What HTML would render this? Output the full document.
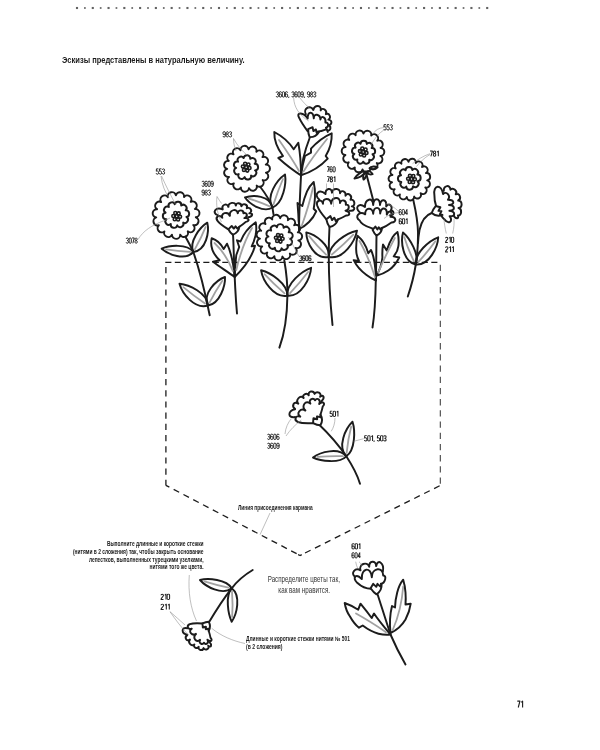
<!DOCTYPE html>
<html><head><meta charset="utf-8"><title>p71</title>
<style>
html,body{margin:0;padding:0;background:#fff;}
body{width:600px;height:750px;overflow:hidden;font-family:"Liberation Sans",sans-serif;}
svg{display:block;}
text{font-family:"Liberation Sans",sans-serif;}
</style></head><body>
<svg width="600" height="750" viewBox="0 0 600 750" style="will-change:transform">
<rect width="600" height="750" fill="#fff"/>
<rect x="75.95" y="6.95" width="2.1" height="2.1" fill="#636363"/>
<rect x="84.04" y="7.15" width="1.7" height="1.7" fill="#636363"/>
<rect x="91.73" y="6.95" width="2.1" height="2.1" fill="#636363"/>
<rect x="99.82" y="7.15" width="1.7" height="1.7" fill="#636363"/>
<rect x="107.50" y="6.95" width="2.1" height="2.1" fill="#636363"/>
<rect x="115.59" y="7.15" width="1.7" height="1.7" fill="#636363"/>
<rect x="123.28" y="6.95" width="2.1" height="2.1" fill="#636363"/>
<rect x="131.37" y="7.15" width="1.7" height="1.7" fill="#636363"/>
<rect x="139.06" y="6.95" width="2.1" height="2.1" fill="#636363"/>
<rect x="147.15" y="7.15" width="1.7" height="1.7" fill="#636363"/>
<rect x="154.83" y="6.95" width="2.1" height="2.1" fill="#636363"/>
<rect x="162.92" y="7.15" width="1.7" height="1.7" fill="#636363"/>
<rect x="170.61" y="6.95" width="2.1" height="2.1" fill="#636363"/>
<rect x="178.70" y="7.15" width="1.7" height="1.7" fill="#636363"/>
<rect x="186.39" y="6.95" width="2.1" height="2.1" fill="#636363"/>
<rect x="194.48" y="7.15" width="1.7" height="1.7" fill="#636363"/>
<rect x="202.17" y="6.95" width="2.1" height="2.1" fill="#636363"/>
<rect x="210.25" y="7.15" width="1.7" height="1.7" fill="#636363"/>
<rect x="217.94" y="6.95" width="2.1" height="2.1" fill="#636363"/>
<rect x="226.03" y="7.15" width="1.7" height="1.7" fill="#636363"/>
<rect x="233.72" y="6.95" width="2.1" height="2.1" fill="#636363"/>
<rect x="241.81" y="7.15" width="1.7" height="1.7" fill="#636363"/>
<rect x="249.50" y="6.95" width="2.1" height="2.1" fill="#636363"/>
<rect x="257.58" y="7.15" width="1.7" height="1.7" fill="#636363"/>
<rect x="265.27" y="6.95" width="2.1" height="2.1" fill="#636363"/>
<rect x="273.36" y="7.15" width="1.7" height="1.7" fill="#636363"/>
<rect x="281.05" y="6.95" width="2.1" height="2.1" fill="#636363"/>
<rect x="289.14" y="7.15" width="1.7" height="1.7" fill="#636363"/>
<rect x="296.83" y="6.95" width="2.1" height="2.1" fill="#636363"/>
<rect x="304.92" y="7.15" width="1.7" height="1.7" fill="#636363"/>
<rect x="312.60" y="6.95" width="2.1" height="2.1" fill="#636363"/>
<rect x="320.69" y="7.15" width="1.7" height="1.7" fill="#636363"/>
<rect x="328.38" y="6.95" width="2.1" height="2.1" fill="#636363"/>
<rect x="336.47" y="7.15" width="1.7" height="1.7" fill="#636363"/>
<rect x="344.16" y="6.95" width="2.1" height="2.1" fill="#636363"/>
<rect x="352.25" y="7.15" width="1.7" height="1.7" fill="#636363"/>
<rect x="359.93" y="6.95" width="2.1" height="2.1" fill="#636363"/>
<rect x="368.02" y="7.15" width="1.7" height="1.7" fill="#636363"/>
<rect x="375.71" y="6.95" width="2.1" height="2.1" fill="#636363"/>
<rect x="383.80" y="7.15" width="1.7" height="1.7" fill="#636363"/>
<rect x="391.49" y="6.95" width="2.1" height="2.1" fill="#636363"/>
<rect x="399.58" y="7.15" width="1.7" height="1.7" fill="#636363"/>
<rect x="407.27" y="6.95" width="2.1" height="2.1" fill="#636363"/>
<rect x="415.35" y="7.15" width="1.7" height="1.7" fill="#636363"/>
<rect x="423.04" y="6.95" width="2.1" height="2.1" fill="#636363"/>
<rect x="431.13" y="7.15" width="1.7" height="1.7" fill="#636363"/>
<rect x="438.82" y="6.95" width="2.1" height="2.1" fill="#636363"/>
<rect x="446.91" y="7.15" width="1.7" height="1.7" fill="#636363"/>
<rect x="454.60" y="6.95" width="2.1" height="2.1" fill="#636363"/>
<rect x="462.68" y="7.15" width="1.7" height="1.7" fill="#636363"/>
<rect x="470.37" y="6.95" width="2.1" height="2.1" fill="#636363"/>
<rect x="478.46" y="7.15" width="1.7" height="1.7" fill="#636363"/>
<rect x="486.15" y="6.95" width="2.1" height="2.1" fill="#636363"/>
<text x="62.00" y="63.00" font-size="9.60" font-weight="bold" text-anchor="start" fill="#1a1a1a" textLength="182.50" lengthAdjust="spacingAndGlyphs">Эскизы представлены в натуральную величину.</text>
<path d="M165.3 262.3 H440.8" fill="none" stroke="#1c1c1c" stroke-width="1.15" stroke-dasharray="6.1 3.4" stroke-dashoffset="0.00"/>
<path d="M165.9 262.3 V485.6" fill="none" stroke="#1c1c1c" stroke-width="1.30" stroke-dasharray="6.2 5" stroke-dashoffset="-4.70"/>
<path d="M165.9 485.3 L300.1 555.5" fill="none" stroke="#1c1c1c" stroke-width="1.30" stroke-dasharray="6.2 4.85" stroke-dashoffset="2.30"/>
<path d="M300.1 555.5 L440.4 485.4" fill="none" stroke="#1c1c1c" stroke-width="1.30" stroke-dasharray="6.2 4.9" stroke-dashoffset="-5.50"/>
<path d="M440.3 262.3 V485.3" fill="none" stroke="#3a3a3a" stroke-width="1.05" stroke-dasharray="6.3 4.9" stroke-dashoffset="-2.40"/>
<path d="M298.6 554.8 L300.1 555.5 L301.4 554.9" fill="none" stroke="#1c1c1c" stroke-width="1.30" stroke-linecap="round" stroke-linejoin="round" />
<path d="M185.3 236.5 C190 245 192 249 193.3 252 C199 268 205 292 209.7 315.2" fill="none" stroke="#1c1c1c" stroke-width="1.95" stroke-linecap="round" stroke-linejoin="round" />
<path d="M233 234 C234 250 234 280 237 313.5" fill="none" stroke="#1c1c1c" stroke-width="1.95" stroke-linecap="round" stroke-linejoin="round" />
<path d="M260 186.5 C265 193 270 200 272.5 208 L273.5 214.3" fill="none" stroke="#1c1c1c" stroke-width="1.95" stroke-linecap="round" stroke-linejoin="round" />
<path d="M310 137 C305 150 301 165 301 176 C300 195 299 215 299 232" fill="none" stroke="#1c1c1c" stroke-width="1.95" stroke-linecap="round" stroke-linejoin="round" />
<path d="M284.3 260.5 C286.3 272 287.6 285 287.4 295.7 C287.2 315 284 335 279.4 347.7" fill="none" stroke="#1c1c1c" stroke-width="1.95" stroke-linecap="round" stroke-linejoin="round" />
<path d="M329.5 227 C328.5 245 328 280 332.5 325" fill="none" stroke="#1c1c1c" stroke-width="1.95" stroke-linecap="round" stroke-linejoin="round" />
<path d="M365.8 172 C368 180 371 192 373.4 201" fill="none" stroke="#1c1c1c" stroke-width="1.95" stroke-linecap="round" stroke-linejoin="round" />
<path d="M376.5 235.5 C376.3 250 376.3 265 375.8 280 C375.5 300 374.5 315 372.5 327.5" fill="none" stroke="#1c1c1c" stroke-width="1.95" stroke-linecap="round" stroke-linejoin="round" />
<path d="M413.3 200 C416 212 417.8 222 418 232 C418.2 244 417.3 255 415.8 264.5 C414 276 411 287 407.8 296.5" fill="none" stroke="#1c1c1c" stroke-width="1.95" stroke-linecap="round" stroke-linejoin="round" />
<path d="M431.7 213 C426 215 421.5 221 419.5 230 C418.8 234 418.3 238 418 243" fill="none" stroke="#1c1c1c" stroke-width="1.95" stroke-linecap="round" stroke-linejoin="round" />
<path d="M318.5 424 C330 435 340 447 346.3 456.3 C352 465 357 474 360 483.7" fill="none" stroke="#1c1c1c" stroke-width="1.95" stroke-linecap="round" stroke-linejoin="round" />
<path d="M208.5 623 C215 612 224 598 231.7 588.3 C238 580 246 574 252.7 570" fill="none" stroke="#1c1c1c" stroke-width="1.95" stroke-linecap="round" stroke-linejoin="round" />
<path d="M377.7 594.7 C382 608 386 621 390.5 634.5 C395 645 400 655 405.5 664.5" fill="none" stroke="#1c1c1c" stroke-width="1.95" stroke-linecap="round" stroke-linejoin="round" />
<path d="M193.30 252.00 C206.36 250.32 209.47 231.66 207.30 222.70 C200.05 227.15 188.57 241.82 193.30 252.00 Z" fill="none" stroke="#1c1c1c" stroke-width="1.95" stroke-linecap="round" stroke-linejoin="round" />
<path d="M194.92 249.17 Q201.27 237.82 205.66 226.96" fill="none" stroke="#a2a2a2" stroke-width="1.80" stroke-linecap="round" stroke-linejoin="round" />
<path d="M193.30 252.00 C187.16 243.48 169.09 245.27 161.70 248.70 C168.11 254.58 185.33 261.06 193.30 252.00 Z" fill="none" stroke="#1c1c1c" stroke-width="1.95" stroke-linecap="round" stroke-linejoin="round" />
<path d="M190.12 251.87 Q177.41 251.25 166.09 249.46" fill="none" stroke="#a2a2a2" stroke-width="1.80" stroke-linecap="round" stroke-linejoin="round" />
<path d="M208.00 305.50 C207.51 293.14 188.85 284.53 179.50 283.80 C182.09 293.41 194.74 309.91 208.00 305.50 Z" fill="none" stroke="#1c1c1c" stroke-width="1.95" stroke-linecap="round" stroke-linejoin="round" />
<path d="M205.03 303.49 Q193.20 295.37 183.31 287.08" fill="none" stroke="#a2a2a2" stroke-width="1.80" stroke-linecap="round" stroke-linejoin="round" />
<path d="M208.00 305.50 C219.64 303.94 225.47 285.78 225.00 277.00 C216.19 280.25 202.12 293.49 208.00 305.50 Z" fill="none" stroke="#1c1c1c" stroke-width="1.95" stroke-linecap="round" stroke-linejoin="round" />
<path d="M209.53 302.55 Q215.73 290.79 222.36 280.84" fill="none" stroke="#a2a2a2" stroke-width="1.80" stroke-linecap="round" stroke-linejoin="round" />
<path d="M272.50 207.50 C283.22 203.26 286.50 183.37 285.00 174.50 C277.07 179.80 265.41 196.51 272.50 207.50 Z" fill="none" stroke="#1c1c1c" stroke-width="1.95" stroke-linecap="round" stroke-linejoin="round" />
<path d="M273.56 204.13 Q277.91 190.68 282.97 179.01" fill="none" stroke="#a2a2a2" stroke-width="1.80" stroke-linecap="round" stroke-linejoin="round" />
<path d="M272.50 207.50 C270.05 195.41 252.94 194.49 245.00 197.50 C249.50 203.97 263.54 213.31 272.50 207.50 Z" fill="none" stroke="#1c1c1c" stroke-width="1.95" stroke-linecap="round" stroke-linejoin="round" />
<path d="M269.82 206.31 Q259.06 201.65 248.95 198.62" fill="none" stroke="#a2a2a2" stroke-width="1.80" stroke-linecap="round" stroke-linejoin="round" />
<path d="M287.30 295.70 C287.80 283.65 270.21 272.44 261.10 270.30 C262.69 280.20 273.60 298.30 287.30 295.70 Z" fill="none" stroke="#1c1c1c" stroke-width="1.95" stroke-linecap="round" stroke-linejoin="round" />
<path d="M284.51 293.33 Q273.45 283.78 264.52 274.11" fill="none" stroke="#a2a2a2" stroke-width="1.80" stroke-linecap="round" stroke-linejoin="round" />
<path d="M287.50 295.70 C301.40 296.92 310.49 277.81 311.10 267.80 C302.24 270.84 285.82 283.75 287.50 295.70 Z" fill="none" stroke="#1c1c1c" stroke-width="1.95" stroke-linecap="round" stroke-linejoin="round" />
<path d="M290.04 293.06 Q300.12 282.45 308.07 271.94" fill="none" stroke="#a2a2a2" stroke-width="1.80" stroke-linecap="round" stroke-linejoin="round" />
<path d="M328.50 257.00 C330.80 245.10 315.01 234.35 306.30 232.40 C306.46 242.07 314.65 259.68 328.50 257.00 Z" fill="none" stroke="#1c1c1c" stroke-width="1.95" stroke-linecap="round" stroke-linejoin="round" />
<path d="M326.10 254.70 Q316.60 245.42 309.14 236.09" fill="none" stroke="#a2a2a2" stroke-width="1.80" stroke-linecap="round" stroke-linejoin="round" />
<path d="M328.90 257.00 C343.34 260.03 355.16 241.13 357.00 230.70 C347.29 232.72 328.47 244.15 328.90 257.00 Z" fill="none" stroke="#1c1c1c" stroke-width="1.95" stroke-linecap="round" stroke-linejoin="round" />
<path d="M331.87 254.55 Q343.69 244.64 353.31 234.64" fill="none" stroke="#a2a2a2" stroke-width="1.80" stroke-linecap="round" stroke-linejoin="round" />
<path d="M415.60 264.50 C419.88 254.68 409.55 238.05 403.00 232.50 C400.51 241.61 402.80 261.41 415.60 264.50 Z" fill="none" stroke="#1c1c1c" stroke-width="1.95" stroke-linecap="round" stroke-linejoin="round" />
<path d="M414.04 261.42 Q407.96 249.03 404.32 237.16" fill="none" stroke="#a2a2a2" stroke-width="1.80" stroke-linecap="round" stroke-linejoin="round" />
<path d="M416.00 264.50 C429.45 265.51 437.82 246.96 438.20 237.30 C429.74 240.36 414.17 253.04 416.00 264.50 Z" fill="none" stroke="#1c1c1c" stroke-width="1.95" stroke-linecap="round" stroke-linejoin="round" />
<path d="M418.41 261.93 Q427.94 251.58 435.37 241.34" fill="none" stroke="#a2a2a2" stroke-width="1.80" stroke-linecap="round" stroke-linejoin="round" />
<path d="M346.30 456.30 C355.39 450.10 355.27 430.13 352.50 421.80 C345.53 428.38 336.99 446.79 346.30 456.30 Z" fill="none" stroke="#1c1c1c" stroke-width="1.95" stroke-linecap="round" stroke-linejoin="round" />
<path d="M346.62 452.80 Q348.07 438.81 351.19 426.55" fill="none" stroke="#a2a2a2" stroke-width="1.80" stroke-linecap="round" stroke-linejoin="round" />
<path d="M346.30 456.30 C338.62 446.87 320.14 452.14 313.00 457.50 C320.47 461.13 339.24 463.86 346.30 456.30 Z" fill="none" stroke="#1c1c1c" stroke-width="1.95" stroke-linecap="round" stroke-linejoin="round" />
<path d="M342.96 456.18 Q329.61 455.82 317.65 456.97" fill="none" stroke="#a2a2a2" stroke-width="1.80" stroke-linecap="round" stroke-linejoin="round" />
<path d="M231.70 588.30 C226.63 579.22 207.99 577.96 200.00 580.00 C205.71 586.66 222.32 595.66 231.70 588.30 Z" fill="none" stroke="#1c1c1c" stroke-width="1.95" stroke-linecap="round" stroke-linejoin="round" />
<path d="M228.48 587.66 Q215.62 585.02 204.36 581.45" fill="none" stroke="#a2a2a2" stroke-width="1.80" stroke-linecap="round" stroke-linejoin="round" />
<path d="M231.70 588.30 C225.04 595.65 228.13 614.35 231.70 621.70 C236.77 614.35 241.36 595.65 231.70 588.30 Z" fill="none" stroke="#1c1c1c" stroke-width="1.95" stroke-linecap="round" stroke-linejoin="round" />
<path d="M232.00 591.64 Q233.05 605.00 232.15 617.02" fill="none" stroke="#a2a2a2" stroke-width="1.80" stroke-linecap="round" stroke-linejoin="round" />
<path d="M234.7 277 C228 272 220 267 213 261.7 L219.7 260.3 C213 254 210 246 211.7 238.3 C217 240 221 244 223.7 249 L227 243.7 C231 252 233.5 264 234.7 277 Z" fill="none" stroke="#1c1c1c" stroke-width="1.95" stroke-linecap="round" stroke-linejoin="round" stroke-miterlimit="6"/>
<path d="M214.5 243 C222 250 228.5 260 232.8 271" fill="none" stroke="#a2a2a2" stroke-width="1.80" stroke-linecap="round" stroke-linejoin="round" />
<path d="M234.7 277 C235 270 235.5 262 236.3 255 L239.2 247 L237 240.3 L240.5 241.5 C243 235 249 227 255.7 222.3 C257 229 256 236 253.7 241.7 L251.7 246.3 L255 245.7 C252 257 244 268 234.7 277 Z" fill="none" stroke="#1c1c1c" stroke-width="1.95" stroke-linecap="round" stroke-linejoin="round" stroke-miterlimit="6"/>
<path d="M252 228 C245 240 240 254 236.3 270" fill="none" stroke="#a2a2a2" stroke-width="1.80" stroke-linecap="round" stroke-linejoin="round" />
<path d="M301 175.3 C294 171 285 164 278.3 158 L283 156 C277 148 274 140 274.3 132 C282 136 289 142 293.7 149.3 L298.3 142.7 C300 152 301 163 301 175.3 Z" fill="none" stroke="#1c1c1c" stroke-width="1.95" stroke-linecap="round" stroke-linejoin="round" stroke-miterlimit="6"/>
<path d="M279 140 C286 150 293 160 299 171" fill="none" stroke="#a2a2a2" stroke-width="1.80" stroke-linecap="round" stroke-linejoin="round" />
<path d="M301 175.3 C302 168 303.5 161 305 156 L311 152.7 L311 148.7 C316 143 323 137 331.7 133.3 C332 141 330 149 325.7 156 L327.7 158.7 C321 166 312 172 301 175.3 Z" fill="none" stroke="#1c1c1c" stroke-width="1.95" stroke-linecap="round" stroke-linejoin="round" stroke-miterlimit="6"/>
<path d="M327 139 C319 149 310 161 303.5 171.5" fill="none" stroke="#a2a2a2" stroke-width="1.80" stroke-linecap="round" stroke-linejoin="round" />
<path d="M299.7 228.7 C298.8 224 298.3 219 298.3 214 C298 210 297.8 206.5 297.5 203 L302.3 206 C303.5 201 305 196 307 191.3 C308.8 187.5 311 184.5 313.7 182 C314.8 187 315.2 192 315 196.7 C314.8 201 314.4 205 313.7 208.7 L316.2 211.3 C314.5 215.5 312 219 309 222 C306.3 224.7 303.2 227 299.7 228.7 Z" fill="none" stroke="#1c1c1c" stroke-width="1.95" stroke-linecap="round" stroke-linejoin="round" stroke-miterlimit="6"/>
<path d="M313 187.5 C310 201 306 214 301.7 226" fill="none" stroke="#a2a2a2" stroke-width="1.80" stroke-linecap="round" stroke-linejoin="round" />
<path d="M376 280.5 C372 279 369 277 366.2 274.8 C361 271 356.5 266 353.7 260.2 L359 261 C357 257 356.2 254 356.2 250 C356 245 356.5 240 357.5 235.8 C360 238 362 240 363.4 242.3 C365.5 245.5 367 249 368.3 253.2 L371 250 C372.5 253 373.5 257 374.2 260.8 C375.2 266 375.8 272 376 280.5 Z" fill="none" stroke="#1c1c1c" stroke-width="1.95" stroke-linecap="round" stroke-linejoin="round" stroke-miterlimit="6"/>
<path d="M359.5 241 C365 251 371 264 375 277" fill="none" stroke="#a2a2a2" stroke-width="1.80" stroke-linecap="round" stroke-linejoin="round" />
<path d="M376.3 275.8 C381 274.5 385 272.8 388.3 270.5 C393 267.5 396.5 263 399.2 257.5 L393.7 256.4 C396.5 253 398 250 398.4 246 C399 241 398.5 236 397.5 232 C395.5 233.5 394 235 392.7 237 C390.5 240.5 388.5 245 386.7 250.5 L383 244.5 C382.3 249 382.2 253 382.4 257.5 C381.8 263 380 270 376.3 275.8 Z" fill="none" stroke="#1c1c1c" stroke-width="1.95" stroke-linecap="round" stroke-linejoin="round" stroke-miterlimit="6"/>
<path d="M394.8 238 C389 249 383 261 378.2 272.5" fill="none" stroke="#a2a2a2" stroke-width="1.80" stroke-linecap="round" stroke-linejoin="round" />
<path d="M390.5 634.5 C385 628 379 621 374 613.5 L371.7 618 C368 613 364 608 360.5 603.7 L358.2 609.7 C354 607 349 604.5 344.7 603 C345.5 608 347.5 613 350 616.5 C352.5 621 355.5 625 359 627.7 L362.7 625.5 C368 629.5 374 632.5 378.5 633.7 C383 634.8 387 635 390.5 634.5 Z" fill="none" stroke="#1c1c1c" stroke-width="1.95" stroke-linecap="round" stroke-linejoin="round" stroke-miterlimit="6"/>
<path d="M356 613.5 C366 619 377 626 386 632.2" fill="none" stroke="#a2a2a2" stroke-width="1.80" stroke-linecap="round" stroke-linejoin="round" />
<path d="M390.5 633 C389.5 624 390 614 392 606 L395 607.5 C395.2 602 396 597 397.2 592.5 C398.5 587.5 400.5 583 403.2 579.7 C404.5 584 405.3 588 405.5 592.5 C405.8 596.5 405.8 600.5 405.5 604.5 L410.7 603.7 C410 609 408.5 614 405.5 619.5 C402 625.5 397 630 390.5 633 Z" fill="none" stroke="#1c1c1c" stroke-width="1.95" stroke-linecap="round" stroke-linejoin="round" stroke-miterlimit="6"/>
<path d="M403.2 586.5 C402 602 398 618 392.7 630" fill="none" stroke="#a2a2a2" stroke-width="1.80" stroke-linecap="round" stroke-linejoin="round" />
<path d="M365.50 171.50 C361.51 170.63 356.09 175.75 354.50 178.60 C357.75 178.32 364.65 175.49 365.50 171.50 Z" fill="none" stroke="#1c1c1c" stroke-width="1.95" stroke-linecap="round" stroke-linejoin="round" />
<path d="M365.80 172.00 C362.87 172.96 362.79 177.55 363.60 179.60 C365.38 178.30 367.77 174.38 365.80 172.00 Z" fill="none" stroke="#1c1c1c" stroke-width="1.95" stroke-linecap="round" stroke-linejoin="round" />
<path d="M366.50 171.50 C366.81 174.43 370.71 174.84 372.60 174.20 C371.80 172.37 368.87 169.76 366.50 171.50 Z" fill="none" stroke="#1c1c1c" stroke-width="1.95" stroke-linecap="round" stroke-linejoin="round" />
<path d="M369.50 168.30 C371.57 170.44 375.97 168.77 377.60 167.30 C375.66 166.27 370.99 165.72 369.50 168.30 Z" fill="none" stroke="#1c1c1c" stroke-width="1.95" stroke-linecap="round" stroke-linejoin="round" />
<path d="M195.80 217.24 A4.14 4.14 0 0 1 193.28 225.12 A4.14 4.14 0 0 1 187.77 231.29 A4.14 4.14 0 0 1 180.23 234.69 A4.14 4.14 0 0 1 171.95 234.73 A4.14 4.14 0 0 1 164.38 231.40 A4.14 4.14 0 0 1 158.82 225.28 A4.14 4.14 0 0 1 156.22 217.42 A4.14 4.14 0 0 1 157.05 209.19 A4.14 4.14 0 0 1 161.15 202.01 A4.14 4.14 0 0 1 167.82 197.11 A4.14 4.14 0 0 1 175.91 195.35 A4.14 4.14 0 0 1 184.01 197.03 A4.14 4.14 0 0 1 190.72 201.87 A4.14 4.14 0 0 1 194.89 209.01 A4.14 4.14 0 0 1 195.80 217.24Z" fill="none" stroke="#1c1c1c" stroke-width="1.95" stroke-linejoin="round"/>
<path d="M186.42 216.91 A3.29 3.29 0 0 1 183.19 222.64 A3.29 3.29 0 0 1 177.21 225.37 A3.29 3.29 0 0 1 170.77 224.06 A3.29 3.29 0 0 1 166.33 219.22 A3.29 3.29 0 0 1 165.58 212.69 A3.29 3.29 0 0 1 168.81 206.96 A3.29 3.29 0 0 1 174.79 204.23 A3.29 3.29 0 0 1 181.23 205.54 A3.29 3.29 0 0 1 185.67 210.38 A3.29 3.29 0 0 1 186.42 216.91Z" fill="none" stroke="#1c1c1c" stroke-width="1.95" stroke-linejoin="round"/>
<circle cx="176.70" cy="216.30" r="1.50" fill="none" stroke="#1c1c1c" stroke-width="1.55"/>
<circle cx="180.08" cy="216.66" r="1.50" fill="none" stroke="#1c1c1c" stroke-width="1.55"/>
<circle cx="178.10" cy="219.58" r="1.50" fill="none" stroke="#1c1c1c" stroke-width="1.55"/>
<circle cx="174.71" cy="219.22" r="1.50" fill="none" stroke="#1c1c1c" stroke-width="1.55"/>
<circle cx="173.32" cy="215.94" r="1.50" fill="none" stroke="#1c1c1c" stroke-width="1.55"/>
<circle cx="175.30" cy="213.02" r="1.50" fill="none" stroke="#1c1c1c" stroke-width="1.55"/>
<circle cx="178.69" cy="213.38" r="1.50" fill="none" stroke="#1c1c1c" stroke-width="1.55"/>
<path d="M265.92 172.64 A4.07 4.07 0 0 1 262.68 180.10 A4.07 4.07 0 0 1 256.69 185.60 A4.07 4.07 0 0 1 248.98 188.18 A4.07 4.07 0 0 1 240.88 187.41 A4.07 4.07 0 0 1 233.80 183.41 A4.07 4.07 0 0 1 228.96 176.87 A4.07 4.07 0 0 1 227.19 168.93 A4.07 4.07 0 0 1 228.81 160.96 A4.07 4.07 0 0 1 233.52 154.34 A4.07 4.07 0 0 1 240.53 150.20 A4.07 4.07 0 0 1 248.61 149.28 A4.07 4.07 0 0 1 256.37 151.72 A4.07 4.07 0 0 1 262.47 157.10 A4.07 4.07 0 0 1 265.84 164.50 A4.07 4.07 0 0 1 265.92 172.64Z" fill="none" stroke="#1c1c1c" stroke-width="1.95" stroke-linejoin="round"/>
<path d="M255.04 170.36 A3.31 3.31 0 0 1 251.04 175.63 A3.31 3.31 0 0 1 244.59 177.10 A3.31 3.31 0 0 1 238.70 174.07 A3.31 3.31 0 0 1 236.14 167.97 A3.31 3.31 0 0 1 238.09 161.65 A3.31 3.31 0 0 1 243.65 158.07 A3.31 3.31 0 0 1 250.22 158.89 A3.31 3.31 0 0 1 254.72 163.75 A3.31 3.31 0 0 1 255.04 170.36Z" fill="none" stroke="#1c1c1c" stroke-width="1.95" stroke-linejoin="round"/>
<circle cx="246.20" cy="167.20" r="1.50" fill="none" stroke="#1c1c1c" stroke-width="1.55"/>
<circle cx="249.53" cy="167.92" r="1.50" fill="none" stroke="#1c1c1c" stroke-width="1.55"/>
<circle cx="247.28" cy="170.61" r="1.50" fill="none" stroke="#1c1c1c" stroke-width="1.55"/>
<circle cx="243.95" cy="169.90" r="1.50" fill="none" stroke="#1c1c1c" stroke-width="1.55"/>
<circle cx="242.87" cy="166.48" r="1.50" fill="none" stroke="#1c1c1c" stroke-width="1.55"/>
<circle cx="245.12" cy="163.79" r="1.50" fill="none" stroke="#1c1c1c" stroke-width="1.55"/>
<circle cx="248.45" cy="164.50" r="1.50" fill="none" stroke="#1c1c1c" stroke-width="1.55"/>
<path d="M298.34 240.39 A4.01 4.01 0 0 1 295.52 247.90 A4.01 4.01 0 0 1 289.88 253.62 A4.01 4.01 0 0 1 282.41 256.55 A4.01 4.01 0 0 1 274.38 256.18 A4.01 4.01 0 0 1 267.21 252.59 A4.01 4.01 0 0 1 262.11 246.39 A4.01 4.01 0 0 1 259.98 238.65 A4.01 4.01 0 0 1 261.18 230.71 A4.01 4.01 0 0 1 265.50 223.94 A4.01 4.01 0 0 1 272.20 219.52 A4.01 4.01 0 0 1 280.12 218.21 A4.01 4.01 0 0 1 287.89 220.24 A4.01 4.01 0 0 1 294.17 225.24 A4.01 4.01 0 0 1 297.86 232.37 A4.01 4.01 0 0 1 298.34 240.39Z" fill="none" stroke="#1c1c1c" stroke-width="1.95" stroke-linejoin="round"/>
<path d="M290.07 238.84 A3.36 3.36 0 0 1 287.36 244.99 A3.36 3.36 0 0 1 281.56 248.37 A3.36 3.36 0 0 1 274.87 247.70 A3.36 3.36 0 0 1 269.86 243.23 A3.36 3.36 0 0 1 268.43 236.66 A3.36 3.36 0 0 1 271.14 230.51 A3.36 3.36 0 0 1 276.94 227.13 A3.36 3.36 0 0 1 283.63 227.80 A3.36 3.36 0 0 1 288.64 232.27 A3.36 3.36 0 0 1 290.07 238.84Z" fill="none" stroke="#1c1c1c" stroke-width="1.95" stroke-linejoin="round"/>
<circle cx="279.25" cy="238.25" r="1.50" fill="none" stroke="#1c1c1c" stroke-width="1.55"/>
<circle cx="282.61" cy="238.79" r="1.50" fill="none" stroke="#1c1c1c" stroke-width="1.55"/>
<circle cx="280.49" cy="241.60" r="1.50" fill="none" stroke="#1c1c1c" stroke-width="1.55"/>
<circle cx="277.13" cy="241.06" r="1.50" fill="none" stroke="#1c1c1c" stroke-width="1.55"/>
<circle cx="275.89" cy="237.71" r="1.50" fill="none" stroke="#1c1c1c" stroke-width="1.55"/>
<circle cx="278.01" cy="234.90" r="1.50" fill="none" stroke="#1c1c1c" stroke-width="1.55"/>
<circle cx="281.37" cy="235.44" r="1.50" fill="none" stroke="#1c1c1c" stroke-width="1.55"/>
<path d="M380.40 155.94 A4.00 4.00 0 0 1 376.75 163.05 A4.00 4.00 0 0 1 370.37 167.87 A4.00 4.00 0 0 1 362.54 169.45 A4.00 4.00 0 0 1 354.80 167.47 A4.00 4.00 0 0 1 348.68 162.33 A4.00 4.00 0 0 1 345.40 155.05 A4.00 4.00 0 0 1 345.60 147.06 A4.00 4.00 0 0 1 349.25 139.95 A4.00 4.00 0 0 1 355.63 135.13 A4.00 4.00 0 0 1 363.46 133.55 A4.00 4.00 0 0 1 371.20 135.53 A4.00 4.00 0 0 1 377.32 140.67 A4.00 4.00 0 0 1 380.60 147.95 A4.00 4.00 0 0 1 380.40 155.94Z" fill="none" stroke="#1c1c1c" stroke-width="1.95" stroke-linejoin="round"/>
<path d="M372.52 154.33 A3.15 3.15 0 0 1 369.24 159.70 A3.15 3.15 0 0 1 363.27 161.70 A3.15 3.15 0 0 1 357.40 159.40 A3.15 3.15 0 0 1 354.40 153.87 A3.15 3.15 0 0 1 355.65 147.70 A3.15 3.15 0 0 1 360.57 143.77 A3.15 3.15 0 0 1 366.87 143.93 A3.15 3.15 0 0 1 371.59 148.10 A3.15 3.15 0 0 1 372.52 154.33Z" fill="none" stroke="#1c1c1c" stroke-width="1.95" stroke-linejoin="round"/>
<circle cx="363.20" cy="152.00" r="1.50" fill="none" stroke="#1c1c1c" stroke-width="1.55"/>
<circle cx="366.49" cy="152.89" r="1.50" fill="none" stroke="#1c1c1c" stroke-width="1.55"/>
<circle cx="364.12" cy="155.47" r="1.50" fill="none" stroke="#1c1c1c" stroke-width="1.55"/>
<circle cx="360.82" cy="154.58" r="1.50" fill="none" stroke="#1c1c1c" stroke-width="1.55"/>
<circle cx="359.91" cy="151.11" r="1.50" fill="none" stroke="#1c1c1c" stroke-width="1.55"/>
<circle cx="362.28" cy="148.53" r="1.50" fill="none" stroke="#1c1c1c" stroke-width="1.55"/>
<circle cx="365.58" cy="149.42" r="1.50" fill="none" stroke="#1c1c1c" stroke-width="1.55"/>
<path d="M427.18 180.38 A3.68 3.68 0 0 1 425.29 187.50 A3.68 3.68 0 0 1 420.67 193.23 A3.68 3.68 0 0 1 414.12 196.59 A3.68 3.68 0 0 1 406.77 196.99 A3.68 3.68 0 0 1 399.89 194.37 A3.68 3.68 0 0 1 394.67 189.18 A3.68 3.68 0 0 1 392.02 182.31 A3.68 3.68 0 0 1 392.39 174.96 A3.68 3.68 0 0 1 395.71 168.39 A3.68 3.68 0 0 1 401.42 163.74 A3.68 3.68 0 0 1 408.53 161.82 A3.68 3.68 0 0 1 415.81 162.96 A3.68 3.68 0 0 1 421.99 166.95 A3.68 3.68 0 0 1 426.01 173.12 A3.68 3.68 0 0 1 427.18 180.38Z" fill="none" stroke="#1c1c1c" stroke-width="1.95" stroke-linejoin="round"/>
<path d="M417.57 181.32 A3.37 3.37 0 0 1 413.01 186.28 A3.37 3.37 0 0 1 406.28 186.57 A3.37 3.37 0 0 1 401.32 182.01 A3.37 3.37 0 0 1 401.03 175.28 A3.37 3.37 0 0 1 405.59 170.32 A3.37 3.37 0 0 1 412.32 170.03 A3.37 3.37 0 0 1 417.28 174.59 A3.37 3.37 0 0 1 417.57 181.32Z" fill="none" stroke="#1c1c1c" stroke-width="1.95" stroke-linejoin="round"/>
<circle cx="411.50" cy="179.00" r="1.50" fill="none" stroke="#1c1c1c" stroke-width="1.55"/>
<circle cx="414.90" cy="179.18" r="1.50" fill="none" stroke="#1c1c1c" stroke-width="1.55"/>
<circle cx="413.05" cy="182.20" r="1.50" fill="none" stroke="#1c1c1c" stroke-width="1.55"/>
<circle cx="409.65" cy="182.02" r="1.50" fill="none" stroke="#1c1c1c" stroke-width="1.55"/>
<circle cx="408.10" cy="178.82" r="1.50" fill="none" stroke="#1c1c1c" stroke-width="1.55"/>
<circle cx="409.95" cy="175.80" r="1.50" fill="none" stroke="#1c1c1c" stroke-width="1.55"/>
<circle cx="413.35" cy="175.98" r="1.50" fill="none" stroke="#1c1c1c" stroke-width="1.55"/>
<g transform="translate(232.90 234.80) rotate(-14.0) scale(0.950 0.820)" fill="none" stroke="#1c1c1c" stroke-width="2.20" stroke-linejoin="round" stroke-linecap="round">
<path d="M-10.30 -27.50 C-16.50 -32.90 -10.20 -38.40 -4.00 -33.00 C-4.33 -38.80 2.17 -40.10 2.50 -34.30 C3.17 -39.57 11.17 -39.07 10.50 -33.80 C11.50 -37.87 17.00 -35.37 16.00 -31.30 C18.40 -35.30 23.40 -31.30 21.00 -27.30 C25.20 -28.03 26.50 -21.33 22.30 -20.60 C26.90 -19.73 24.60 -15.43 20.00 -16.30"/>
<path d="M-3.2 -7.8 C-6 -11 -10.5 -16 -12.30 -21.50 C-13.77 -26.70 -7.97 -28.50 -6.50 -23.30 C-7.30 -29.57 0.90 -29.57 1.70 -23.30 C2.23 -30.43 11.03 -31.13 10.50 -24.00 C11.57 -28.47 17.37 -26.77 16.30 -22.30 C20.50 -22.97 20.20 -16.97 16.00 -16.30 C20.73 -15.77 21.23 -10.97 16.50 -11.50 C14 -10 11 -8.6 8.6 -7.6"/>
<path transform="rotate(0.0) scale(1.00)" d="M-3.2 -7.8 L0.9 -10.9 L2.6 -7 L4.8 -9.3 L6.3 -6 L8.6 -7.7 C7.2 -3.4 3.5 -0.6 0 0 C-1.5 -2 -2.6 -5 -3.2 -7.8 Z" fill="#fff" stroke-width="2.20"/>
</g>
<g transform="translate(309.60 137.10) rotate(0.0) scale(1.000 1.000)" fill="none" stroke="#1c1c1c" stroke-width="1.95" stroke-linejoin="round" stroke-linecap="round">
<path d="M-3.75 -22.90 C-6.82 -28.63 0.68 -32.83 3.75 -27.10 C5.05 -32.57 12.40 -32.17 11.10 -26.70 C12.87 -30.43 18.02 -26.63 16.25 -22.90 C19.72 -24.50 22.22 -19.10 18.75 -17.50 C23.05 -17.23 22.70 -11.83 18.40 -12.10 C21.73 -11.63 21.53 -6.13 18.20 -6.60"/>
<path d="M-2 -6 C-5 -10 -8 -14 -10.40 -19.20 C-14.20 -25.47 -5.70 -24.87 -1.90 -18.60 C-2.37 -26.23 3.73 -26.38 4.20 -18.75 C4.07 -24.32 10.67 -23.07 10.80 -17.50 C11.73 -22.50 16.73 -19.60 15.80 -14.60 C19.07 -15.20 19.57 -10.10 16.30 -9.50 C17.5 -7 18 -6 18.2 -5.2 M16.5 -7.8 C13 -6.3 10 -5.6 7.5 -5.5"/>
<path transform="rotate(12.0) scale(0.95)" d="M-3.2 -7.8 L0.9 -10.9 L2.6 -7 L4.8 -9.3 L6.3 -6 L8.6 -7.7 C7.2 -3.4 3.5 -0.6 0 0 C-1.5 -2 -2.6 -5 -3.2 -7.8 Z" fill="#fff" stroke-width="2.05"/>
</g>
<g transform="translate(329.50 227.00) rotate(0.0) scale(1.000 1.000)" fill="none" stroke="#1c1c1c" stroke-width="1.95" stroke-linejoin="round" stroke-linecap="round">
<path d="M-10.30 -27.50 C-16.50 -32.90 -10.20 -38.40 -4.00 -33.00 C-4.33 -38.80 2.17 -40.10 2.50 -34.30 C3.17 -39.57 11.17 -39.07 10.50 -33.80 C11.50 -37.87 17.00 -35.37 16.00 -31.30 C18.40 -35.30 23.40 -31.30 21.00 -27.30 C25.20 -28.03 26.50 -21.33 22.30 -20.60 C26.90 -19.73 24.60 -15.43 20.00 -16.30"/>
<path d="M-3.2 -7.8 C-6 -11 -10.5 -16 -12.30 -21.50 C-13.77 -26.70 -7.97 -28.50 -6.50 -23.30 C-7.30 -29.57 0.90 -29.57 1.70 -23.30 C2.23 -30.43 11.03 -31.13 10.50 -24.00 C11.57 -28.47 17.37 -26.77 16.30 -22.30 C20.50 -22.97 20.20 -16.97 16.00 -16.30 C20.73 -15.77 21.23 -10.97 16.50 -11.50 C14 -10 11 -8.6 8.6 -7.6"/>
<path transform="rotate(0.0) scale(1.00)" d="M-3.2 -7.8 L0.9 -10.9 L2.6 -7 L4.8 -9.3 L6.3 -6 L8.6 -7.7 C7.2 -3.4 3.5 -0.6 0 0 C-1.5 -2 -2.6 -5 -3.2 -7.8 Z" fill="#fff" stroke-width="1.95"/>
</g>
<g transform="translate(376.50 235.50) rotate(0.0) scale(1.000 1.000)" fill="none" stroke="#1c1c1c" stroke-width="1.95" stroke-linejoin="round" stroke-linecap="round">
<path d="M-16.50 -23.00 C-22.63 -27.73 -17.63 -33.23 -11.50 -28.50 C-11.63 -36.90 -3.43 -38.90 -3.30 -30.50 C-3.03 -38.23 3.77 -38.23 3.50 -30.50 C4.30 -37.77 10.50 -36.27 9.70 -29.00 C12.23 -33.40 16.83 -29.40 14.30 -25.00 C18.43 -24.80 17.63 -20.10 13.50 -20.30"/>
<path d="M-3.7 -7 C-8 -8.5 -15 -10 -16.80 -15.00 C-22.60 -18.60 -17.10 -24.80 -11.30 -21.20 C-11.83 -28.33 -3.83 -28.83 -3.30 -21.70 C-2.90 -29.37 4.10 -29.67 3.70 -22.00 C4.37 -29.33 10.97 -28.33 10.30 -21.00 C12.77 -26.27 16.47 -23.97 14.00 -18.70 C19.73 -18.90 20.73 -13.20 15.00 -13.00 C11 -10 8 -8.5 4.5 -7"/>
<path transform="rotate(-12.0) scale(0.82)" d="M-3.2 -7.8 L0.9 -10.9 L2.6 -7 L4.8 -9.3 L6.3 -6 L8.6 -7.7 C7.2 -3.4 3.5 -0.6 0 0 C-1.5 -2 -2.6 -5 -3.2 -7.8 Z" fill="#fff" stroke-width="2.38"/>
</g>
<g transform="translate(431.70 213.00) rotate(0.0) scale(1.000 1.000)" fill="none" stroke="#1c1c1c" stroke-width="1.95" stroke-linejoin="round" stroke-linecap="round">
<path d="M12.10 -22.10 C11.80 -27.70 18.45 -28.90 18.75 -23.30 C21.18 -26.20 26.43 -21.65 24.00 -18.75 C27.80 -20.58 30.30 -14.33 26.50 -12.50 C30.83 -12.50 31.13 -5.00 26.80 -5.00 C30.63 -4.40 30.08 3.10 26.25 2.50 C27.68 6.23 23.43 6.03 22.00 2.30"/>
<path d="M4.6 -6.3 C3.4 -10 2.5 -14 2.70 -17.90 C1.03 -28.37 9.73 -29.47 11.40 -19.00 C14.57 -22.53 19.42 -16.83 16.25 -13.30 C22.68 -13.50 23.73 -8.20 17.30 -8.00 C23.57 -7.80 23.97 -2.10 17.70 -2.30 C23.97 -1.57 24.17 3.93 17.90 3.20 C22.03 8.67 16.63 11.67 12.50 6.20 C11 5 10 3.5 9.2 2.1"/>
<path transform="rotate(52.0) scale(0.95)" d="M-3.2 -7.8 L0.9 -10.9 L2.6 -7 L4.8 -9.3 L6.3 -6 L8.6 -7.7 C7.2 -3.4 3.5 -0.6 0 0 C-1.5 -2 -2.6 -5 -3.2 -7.8 Z" fill="#fff" stroke-width="2.05"/>
</g>
<g transform="translate(320.40 425.30) rotate(-50.0) scale(0.970 0.900)" fill="none" stroke="#1c1c1c" stroke-width="2.09" stroke-linejoin="round" stroke-linecap="round">
<path d="M-10.30 -27.50 C-16.50 -32.90 -10.20 -38.40 -4.00 -33.00 C-4.33 -38.80 2.17 -40.10 2.50 -34.30 C3.17 -39.57 11.17 -39.07 10.50 -33.80 C11.50 -37.87 17.00 -35.37 16.00 -31.30 C18.40 -35.30 23.40 -31.30 21.00 -27.30 C25.20 -28.03 26.50 -21.33 22.30 -20.60 C26.90 -19.73 24.60 -15.43 20.00 -16.30"/>
<path d="M-3.2 -7.8 C-6 -11 -10.5 -16 -12.30 -21.50 C-13.77 -26.70 -7.97 -28.50 -6.50 -23.30 C-7.30 -29.57 0.90 -29.57 1.70 -23.30 C2.23 -30.43 11.03 -31.13 10.50 -24.00 C11.57 -28.47 17.37 -26.77 16.30 -22.30 C20.50 -22.97 20.20 -16.97 16.00 -16.30 C20.73 -15.77 21.23 -10.97 16.50 -11.50 C14 -10 11 -8.6 8.6 -7.6"/>
<path transform="rotate(0.0) scale(1.00)" d="M-3.2 -7.8 L0.9 -10.9 L2.6 -7 L4.8 -9.3 L6.3 -6 L8.6 -7.7 C7.2 -3.4 3.5 -0.6 0 0 C-1.5 -2 -2.6 -5 -3.2 -7.8 Z" fill="#fff" stroke-width="2.09"/>
</g>
<g transform="translate(208.70 621.80) rotate(-129.0) scale(-0.820 0.750)" fill="none" stroke="#1c1c1c" stroke-width="2.48" stroke-linejoin="round" stroke-linecap="round">
<path d="M-10.30 -27.50 C-16.50 -32.90 -10.20 -38.40 -4.00 -33.00 C-4.33 -38.80 2.17 -40.10 2.50 -34.30 C3.17 -39.57 11.17 -39.07 10.50 -33.80 C11.50 -37.87 17.00 -35.37 16.00 -31.30 C18.40 -35.30 23.40 -31.30 21.00 -27.30 C25.20 -28.03 26.50 -21.33 22.30 -20.60 C26.90 -19.73 24.60 -15.43 20.00 -16.30"/>
<path d="M-3.2 -7.8 C-6 -11 -10.5 -16 -12.30 -21.50 C-13.77 -26.70 -7.97 -28.50 -6.50 -23.30 C-7.30 -29.57 0.90 -29.57 1.70 -23.30 C2.23 -30.43 11.03 -31.13 10.50 -24.00 C11.57 -28.47 17.37 -26.77 16.30 -22.30 C20.50 -22.97 20.20 -16.97 16.00 -16.30 C20.73 -15.77 21.23 -10.97 16.50 -11.50 C14 -10 11 -8.6 8.6 -7.6"/>
<path transform="rotate(0.0) scale(1.00)" d="M-3.2 -7.8 L0.9 -10.9 L2.6 -7 L4.8 -9.3 L6.3 -6 L8.6 -7.7 C7.2 -3.4 3.5 -0.6 0 0 C-1.5 -2 -2.6 -5 -3.2 -7.8 Z" fill="#fff" stroke-width="2.48"/>
</g>
<g transform="translate(376.50 594.30) rotate(0.0) scale(1.000 1.000)" fill="none" stroke="#1c1c1c" stroke-width="1.95" stroke-linejoin="round" stroke-linecap="round">
<path d="M-21.30 -17.50 C-26.57 -20.77 -21.27 -27.27 -16.00 -24.00 C-18.07 -30.07 -9.37 -33.57 -7.30 -27.50 C-7.57 -33.83 -0.57 -34.53 -0.30 -28.20 C1.23 -36.20 7.93 -31.00 6.40 -23.00"/>
<path d="M-5.5 -5.5 C-9 -5.5 -15 -7.5 -19.30 -11.50 C-24.90 -17.37 -20.30 -21.17 -14.70 -15.30 C-15.50 -26.57 -5.50 -28.27 -4.70 -17.00 C-4.70 -26.53 6.70 -28.23 6.70 -18.70 C10.77 -18.97 8.47 -10.77 4.40 -10.50"/>
<path transform="rotate(-22.0) scale(1.00)" d="M-3.2 -7.8 L0.9 -10.9 L2.6 -7 L4.8 -9.3 L6.3 -6 L8.6 -7.7 C7.2 -3.4 3.5 -0.6 0 0 C-1.5 -2 -2.6 -5 -3.2 -7.8 Z" fill="#fff" stroke-width="1.95"/>
</g>
<g transform="translate(156.20 174.20) scale(1.037 0.955)" fill="none" stroke="#1e1e1e" stroke-width="0.95" stroke-linecap="butt" stroke-linejoin="round">
<path transform="translate(0.00 0)" d="M2.1 -5.6 H0.25 L0.1 -3.1 C0.7 -3.6 2.2 -3.6 2.2 -2 V-1.1 A1.1 1.1 0 0 1 0 -1"/>
<path transform="translate(2.95 0)" d="M2.1 -5.6 H0.25 L0.1 -3.1 C0.7 -3.6 2.2 -3.6 2.2 -2 V-1.1 A1.1 1.1 0 0 1 0 -1"/>
<path transform="translate(5.90 0)" d="M0 -4.6 A1.1 1.1 0 0 1 2.2 -4.3 C2.2 -3.3 1.6 -2.95 0.9 -2.95 C1.6 -2.95 2.2 -2.5 2.2 -1.3 A1.1 1.1 0 0 1 0 -1"/>
</g>
<g transform="translate(126.20 243.30) scale(0.995 0.955)" fill="none" stroke="#1e1e1e" stroke-width="0.97" stroke-linecap="butt" stroke-linejoin="round">
<path transform="translate(0.00 0)" d="M0 -4.6 A1.1 1.1 0 0 1 2.2 -4.3 C2.2 -3.3 1.6 -2.95 0.9 -2.95 C1.6 -2.95 2.2 -2.5 2.2 -1.3 A1.1 1.1 0 0 1 0 -1"/>
<path transform="translate(2.95 0)" d="M0 -4.5 A1.1 1.1 0 0 1 2.2 -4.5 V-1.1 A1.1 1.1 0 0 1 0 -1.1 Z"/>
<path transform="translate(5.90 0)" d="M0 -5.6 H2.2 L0.8 0"/>
<path transform="translate(8.85 0)" d="M1.1 -2.95 A1 1.32 0 1 1 1.11 -2.95 M1.1 -2.95 A1.1 1.47 0 1 0 1.11 -2.95"/>
</g>
<g transform="translate(202.00 186.50) scale(1.014 0.955)" fill="none" stroke="#1e1e1e" stroke-width="0.96" stroke-linecap="butt" stroke-linejoin="round">
<path transform="translate(0.00 0)" d="M0 -4.6 A1.1 1.1 0 0 1 2.2 -4.3 C2.2 -3.3 1.6 -2.95 0.9 -2.95 C1.6 -2.95 2.2 -2.5 2.2 -1.3 A1.1 1.1 0 0 1 0 -1"/>
<path transform="translate(2.95 0)" d="M2.2 -4.6 A1.1 1.1 0 0 0 0 -4.4 V-1.1 A1.1 1.1 0 0 0 2.2 -1.1 V-2.1 A1.1 1.1 0 0 0 0 -2.1"/>
<path transform="translate(5.90 0)" d="M0 -4.5 A1.1 1.1 0 0 1 2.2 -4.5 V-1.1 A1.1 1.1 0 0 1 0 -1.1 Z"/>
<path transform="translate(8.85 0)" d="M0 -1 A1.1 1.1 0 0 0 2.2 -1.2 V-4.5 A1.1 1.1 0 0 0 0 -4.5 V-3.5 A1.1 1.1 0 0 0 2.2 -3.5"/>
</g>
<g transform="translate(202.00 195.30) scale(1.037 0.955)" fill="none" stroke="#1e1e1e" stroke-width="0.95" stroke-linecap="butt" stroke-linejoin="round">
<path transform="translate(0.00 0)" d="M0 -1 A1.1 1.1 0 0 0 2.2 -1.2 V-4.5 A1.1 1.1 0 0 0 0 -4.5 V-3.5 A1.1 1.1 0 0 0 2.2 -3.5"/>
<path transform="translate(2.95 0)" d="M1.1 -2.95 A1 1.32 0 1 1 1.11 -2.95 M1.1 -2.95 A1.1 1.47 0 1 0 1.11 -2.95"/>
<path transform="translate(5.90 0)" d="M0 -4.6 A1.1 1.1 0 0 1 2.2 -4.3 C2.2 -3.3 1.6 -2.95 0.9 -2.95 C1.6 -2.95 2.2 -2.5 2.2 -1.3 A1.1 1.1 0 0 1 0 -1"/>
</g>
<g transform="translate(223.00 137.00) scale(1.062 0.955)" fill="none" stroke="#1e1e1e" stroke-width="0.94" stroke-linecap="butt" stroke-linejoin="round">
<path transform="translate(0.00 0)" d="M0 -1 A1.1 1.1 0 0 0 2.2 -1.2 V-4.5 A1.1 1.1 0 0 0 0 -4.5 V-3.5 A1.1 1.1 0 0 0 2.2 -3.5"/>
<path transform="translate(2.95 0)" d="M1.1 -2.95 A1 1.32 0 1 1 1.11 -2.95 M1.1 -2.95 A1.1 1.47 0 1 0 1.11 -2.95"/>
<path transform="translate(5.90 0)" d="M0 -4.6 A1.1 1.1 0 0 1 2.2 -4.3 C2.2 -3.3 1.6 -2.95 0.9 -2.95 C1.6 -2.95 2.2 -2.5 2.2 -1.3 A1.1 1.1 0 0 1 0 -1"/>
</g>
<g transform="translate(276.20 97.10) scale(1.034 0.964)" fill="none" stroke="#1e1e1e" stroke-width="0.95" stroke-linecap="butt" stroke-linejoin="round">
<path transform="translate(0.00 0)" d="M0 -4.6 A1.1 1.1 0 0 1 2.2 -4.3 C2.2 -3.3 1.6 -2.95 0.9 -2.95 C1.6 -2.95 2.2 -2.5 2.2 -1.3 A1.1 1.1 0 0 1 0 -1"/>
<path transform="translate(2.95 0)" d="M2.2 -4.6 A1.1 1.1 0 0 0 0 -4.4 V-1.1 A1.1 1.1 0 0 0 2.2 -1.1 V-2.1 A1.1 1.1 0 0 0 0 -2.1"/>
<path transform="translate(5.90 0)" d="M0 -4.5 A1.1 1.1 0 0 1 2.2 -4.5 V-1.1 A1.1 1.1 0 0 1 0 -1.1 Z"/>
<path transform="translate(8.85 0)" d="M2.2 -4.6 A1.1 1.1 0 0 0 0 -4.4 V-1.1 A1.1 1.1 0 0 0 2.2 -1.1 V-2.1 A1.1 1.1 0 0 0 0 -2.1"/>
<path transform="translate(11.80 0)" d="M0.5 -0.5 L0.2 0.9"/>
<path transform="translate(15.10 0)" d="M0 -4.6 A1.1 1.1 0 0 1 2.2 -4.3 C2.2 -3.3 1.6 -2.95 0.9 -2.95 C1.6 -2.95 2.2 -2.5 2.2 -1.3 A1.1 1.1 0 0 1 0 -1"/>
<path transform="translate(18.05 0)" d="M2.2 -4.6 A1.1 1.1 0 0 0 0 -4.4 V-1.1 A1.1 1.1 0 0 0 2.2 -1.1 V-2.1 A1.1 1.1 0 0 0 0 -2.1"/>
<path transform="translate(21.00 0)" d="M0 -4.5 A1.1 1.1 0 0 1 2.2 -4.5 V-1.1 A1.1 1.1 0 0 1 0 -1.1 Z"/>
<path transform="translate(23.95 0)" d="M0 -1 A1.1 1.1 0 0 0 2.2 -1.2 V-4.5 A1.1 1.1 0 0 0 0 -4.5 V-3.5 A1.1 1.1 0 0 0 2.2 -3.5"/>
<path transform="translate(26.90 0)" d="M0.5 -0.5 L0.2 0.9"/>
<path transform="translate(30.20 0)" d="M0 -1 A1.1 1.1 0 0 0 2.2 -1.2 V-4.5 A1.1 1.1 0 0 0 0 -4.5 V-3.5 A1.1 1.1 0 0 0 2.2 -3.5"/>
<path transform="translate(33.15 0)" d="M1.1 -2.95 A1 1.32 0 1 1 1.11 -2.95 M1.1 -2.95 A1.1 1.47 0 1 0 1.11 -2.95"/>
<path transform="translate(36.10 0)" d="M0 -4.6 A1.1 1.1 0 0 1 2.2 -4.3 C2.2 -3.3 1.6 -2.95 0.9 -2.95 C1.6 -2.95 2.2 -2.5 2.2 -1.3 A1.1 1.1 0 0 1 0 -1"/>
</g>
<g transform="translate(327.00 172.00) scale(1.012 0.955)" fill="none" stroke="#1e1e1e" stroke-width="0.97" stroke-linecap="butt" stroke-linejoin="round">
<path transform="translate(0.00 0)" d="M0 -5.6 H2.2 L0.8 0"/>
<path transform="translate(2.95 0)" d="M2.2 -4.6 A1.1 1.1 0 0 0 0 -4.4 V-1.1 A1.1 1.1 0 0 0 2.2 -1.1 V-2.1 A1.1 1.1 0 0 0 0 -2.1"/>
<path transform="translate(5.90 0)" d="M0 -4.5 A1.1 1.1 0 0 1 2.2 -4.5 V-1.1 A1.1 1.1 0 0 1 0 -1.1 Z"/>
</g>
<g transform="translate(327.00 182.00) scale(1.072 0.955)" fill="none" stroke="#1e1e1e" stroke-width="0.94" stroke-linecap="butt" stroke-linejoin="round">
<path transform="translate(0.00 0)" d="M0 -5.6 H2.2 L0.8 0"/>
<path transform="translate(2.95 0)" d="M1.1 -2.95 A1 1.32 0 1 1 1.11 -2.95 M1.1 -2.95 A1.1 1.47 0 1 0 1.11 -2.95"/>
<path transform="translate(5.90 0)" d="M0.4 -4.4 L1.5 -5.6 V0"/>
</g>
<g transform="translate(383.80 130.00) scale(1.062 0.955)" fill="none" stroke="#1e1e1e" stroke-width="0.94" stroke-linecap="butt" stroke-linejoin="round">
<path transform="translate(0.00 0)" d="M2.1 -5.6 H0.25 L0.1 -3.1 C0.7 -3.6 2.2 -3.6 2.2 -2 V-1.1 A1.1 1.1 0 0 1 0 -1"/>
<path transform="translate(2.95 0)" d="M2.1 -5.6 H0.25 L0.1 -3.1 C0.7 -3.6 2.2 -3.6 2.2 -2 V-1.1 A1.1 1.1 0 0 1 0 -1"/>
<path transform="translate(5.90 0)" d="M0 -4.6 A1.1 1.1 0 0 1 2.2 -4.3 C2.2 -3.3 1.6 -2.95 0.9 -2.95 C1.6 -2.95 2.2 -2.5 2.2 -1.3 A1.1 1.1 0 0 1 0 -1"/>
</g>
<g transform="translate(430.00 156.30) scale(1.124 0.955)" fill="none" stroke="#1e1e1e" stroke-width="0.91" stroke-linecap="butt" stroke-linejoin="round">
<path transform="translate(0.00 0)" d="M0 -5.6 H2.2 L0.8 0"/>
<path transform="translate(2.95 0)" d="M1.1 -2.95 A1 1.32 0 1 1 1.11 -2.95 M1.1 -2.95 A1.1 1.47 0 1 0 1.11 -2.95"/>
<path transform="translate(5.90 0)" d="M0.4 -4.4 L1.5 -5.6 V0"/>
</g>
<g transform="translate(399.20 214.80) scale(1.012 0.955)" fill="none" stroke="#1e1e1e" stroke-width="0.97" stroke-linecap="butt" stroke-linejoin="round">
<path transform="translate(0.00 0)" d="M2.2 -4.6 A1.1 1.1 0 0 0 0 -4.4 V-1.1 A1.1 1.1 0 0 0 2.2 -1.1 V-2.1 A1.1 1.1 0 0 0 0 -2.1"/>
<path transform="translate(2.95 0)" d="M0 -4.5 A1.1 1.1 0 0 1 2.2 -4.5 V-1.1 A1.1 1.1 0 0 1 0 -1.1 Z"/>
<path transform="translate(5.90 0)" d="M1.75 0 V-5.6 L0 -1.5 H2.4"/>
</g>
<g transform="translate(399.20 224.00) scale(1.072 0.955)" fill="none" stroke="#1e1e1e" stroke-width="0.94" stroke-linecap="butt" stroke-linejoin="round">
<path transform="translate(0.00 0)" d="M2.2 -4.6 A1.1 1.1 0 0 0 0 -4.4 V-1.1 A1.1 1.1 0 0 0 2.2 -1.1 V-2.1 A1.1 1.1 0 0 0 0 -2.1"/>
<path transform="translate(2.95 0)" d="M0 -4.5 A1.1 1.1 0 0 1 2.2 -4.5 V-1.1 A1.1 1.1 0 0 1 0 -1.1 Z"/>
<path transform="translate(5.90 0)" d="M0.4 -4.4 L1.5 -5.6 V0"/>
</g>
<g transform="translate(445.50 242.50) scale(1.072 0.955)" fill="none" stroke="#1e1e1e" stroke-width="0.94" stroke-linecap="butt" stroke-linejoin="round">
<path transform="translate(0.00 0)" d="M0 -4.4 A1.1 1.15 0 0 1 2.2 -4.4 C2.2 -3 0 -1.8 0 0 H2.2"/>
<path transform="translate(2.95 0)" d="M0.4 -4.4 L1.5 -5.6 V0"/>
<path transform="translate(5.45 0)" d="M0 -4.5 A1.1 1.1 0 0 1 2.2 -4.5 V-1.1 A1.1 1.1 0 0 1 0 -1.1 Z"/>
</g>
<g transform="translate(445.50 252.00) scale(1.139 0.955)" fill="none" stroke="#1e1e1e" stroke-width="0.91" stroke-linecap="butt" stroke-linejoin="round">
<path transform="translate(0.00 0)" d="M0 -4.4 A1.1 1.15 0 0 1 2.2 -4.4 C2.2 -3 0 -1.8 0 0 H2.2"/>
<path transform="translate(2.95 0)" d="M0.4 -4.4 L1.5 -5.6 V0"/>
<path transform="translate(5.45 0)" d="M0.4 -4.4 L1.5 -5.6 V0"/>
</g>
<g transform="translate(299.60 260.80) scale(1.032 0.893)" fill="none" stroke="#1e1e1e" stroke-width="0.99" stroke-linecap="butt" stroke-linejoin="round">
<path transform="translate(0.00 0)" d="M0 -4.6 A1.1 1.1 0 0 1 2.2 -4.3 C2.2 -3.3 1.6 -2.95 0.9 -2.95 C1.6 -2.95 2.2 -2.5 2.2 -1.3 A1.1 1.1 0 0 1 0 -1"/>
<path transform="translate(2.95 0)" d="M2.2 -4.6 A1.1 1.1 0 0 0 0 -4.4 V-1.1 A1.1 1.1 0 0 0 2.2 -1.1 V-2.1 A1.1 1.1 0 0 0 0 -2.1"/>
<path transform="translate(5.90 0)" d="M0 -4.5 A1.1 1.1 0 0 1 2.2 -4.5 V-1.1 A1.1 1.1 0 0 1 0 -1.1 Z"/>
<path transform="translate(8.85 0)" d="M2.2 -4.6 A1.1 1.1 0 0 0 0 -4.4 V-1.1 A1.1 1.1 0 0 0 2.2 -1.1 V-2.1 A1.1 1.1 0 0 0 0 -2.1"/>
</g>
<g transform="translate(330.00 416.50) scale(1.072 0.955)" fill="none" stroke="#1e1e1e" stroke-width="0.94" stroke-linecap="butt" stroke-linejoin="round">
<path transform="translate(0.00 0)" d="M2.1 -5.6 H0.25 L0.1 -3.1 C0.7 -3.6 2.2 -3.6 2.2 -2 V-1.1 A1.1 1.1 0 0 1 0 -1"/>
<path transform="translate(2.95 0)" d="M0 -4.5 A1.1 1.1 0 0 1 2.2 -4.5 V-1.1 A1.1 1.1 0 0 1 0 -1.1 Z"/>
<path transform="translate(5.90 0)" d="M0.4 -4.4 L1.5 -5.6 V0"/>
</g>
<g transform="translate(364.50 441.00) scale(1.091 0.955)" fill="none" stroke="#1e1e1e" stroke-width="0.93" stroke-linecap="butt" stroke-linejoin="round">
<path transform="translate(0.00 0)" d="M2.1 -5.6 H0.25 L0.1 -3.1 C0.7 -3.6 2.2 -3.6 2.2 -2 V-1.1 A1.1 1.1 0 0 1 0 -1"/>
<path transform="translate(2.95 0)" d="M0 -4.5 A1.1 1.1 0 0 1 2.2 -4.5 V-1.1 A1.1 1.1 0 0 1 0 -1.1 Z"/>
<path transform="translate(5.90 0)" d="M0.4 -4.4 L1.5 -5.6 V0"/>
<path transform="translate(8.40 0)" d="M0.5 -0.5 L0.2 0.9"/>
<path transform="translate(11.70 0)" d="M2.1 -5.6 H0.25 L0.1 -3.1 C0.7 -3.6 2.2 -3.6 2.2 -2 V-1.1 A1.1 1.1 0 0 1 0 -1"/>
<path transform="translate(14.65 0)" d="M0 -4.5 A1.1 1.1 0 0 1 2.2 -4.5 V-1.1 A1.1 1.1 0 0 1 0 -1.1 Z"/>
<path transform="translate(17.60 0)" d="M0 -4.6 A1.1 1.1 0 0 1 2.2 -4.3 C2.2 -3.3 1.6 -2.95 0.9 -2.95 C1.6 -2.95 2.2 -2.5 2.2 -1.3 A1.1 1.1 0 0 1 0 -1"/>
</g>
<g transform="translate(267.50 439.50) scale(1.050 0.955)" fill="none" stroke="#1e1e1e" stroke-width="0.95" stroke-linecap="butt" stroke-linejoin="round">
<path transform="translate(0.00 0)" d="M0 -4.6 A1.1 1.1 0 0 1 2.2 -4.3 C2.2 -3.3 1.6 -2.95 0.9 -2.95 C1.6 -2.95 2.2 -2.5 2.2 -1.3 A1.1 1.1 0 0 1 0 -1"/>
<path transform="translate(2.95 0)" d="M2.2 -4.6 A1.1 1.1 0 0 0 0 -4.4 V-1.1 A1.1 1.1 0 0 0 2.2 -1.1 V-2.1 A1.1 1.1 0 0 0 0 -2.1"/>
<path transform="translate(5.90 0)" d="M0 -4.5 A1.1 1.1 0 0 1 2.2 -4.5 V-1.1 A1.1 1.1 0 0 1 0 -1.1 Z"/>
<path transform="translate(8.85 0)" d="M2.2 -4.6 A1.1 1.1 0 0 0 0 -4.4 V-1.1 A1.1 1.1 0 0 0 2.2 -1.1 V-2.1 A1.1 1.1 0 0 0 0 -2.1"/>
</g>
<g transform="translate(267.50 448.50) scale(1.050 0.955)" fill="none" stroke="#1e1e1e" stroke-width="0.95" stroke-linecap="butt" stroke-linejoin="round">
<path transform="translate(0.00 0)" d="M0 -4.6 A1.1 1.1 0 0 1 2.2 -4.3 C2.2 -3.3 1.6 -2.95 0.9 -2.95 C1.6 -2.95 2.2 -2.5 2.2 -1.3 A1.1 1.1 0 0 1 0 -1"/>
<path transform="translate(2.95 0)" d="M2.2 -4.6 A1.1 1.1 0 0 0 0 -4.4 V-1.1 A1.1 1.1 0 0 0 2.2 -1.1 V-2.1 A1.1 1.1 0 0 0 0 -2.1"/>
<path transform="translate(5.90 0)" d="M0 -4.5 A1.1 1.1 0 0 1 2.2 -4.5 V-1.1 A1.1 1.1 0 0 1 0 -1.1 Z"/>
<path transform="translate(8.85 0)" d="M0 -1 A1.1 1.1 0 0 0 2.2 -1.2 V-4.5 A1.1 1.1 0 0 0 0 -4.5 V-3.5 A1.1 1.1 0 0 0 2.2 -3.5"/>
</g>
<g transform="translate(161.00 599.50) scale(1.124 0.955)" fill="none" stroke="#1e1e1e" stroke-width="0.91" stroke-linecap="butt" stroke-linejoin="round">
<path transform="translate(0.00 0)" d="M0 -4.4 A1.1 1.15 0 0 1 2.2 -4.4 C2.2 -3 0 -1.8 0 0 H2.2"/>
<path transform="translate(2.95 0)" d="M0.4 -4.4 L1.5 -5.6 V0"/>
<path transform="translate(5.45 0)" d="M0 -4.5 A1.1 1.1 0 0 1 2.2 -4.5 V-1.1 A1.1 1.1 0 0 1 0 -1.1 Z"/>
</g>
<g transform="translate(161.00 609.50) scale(1.194 0.955)" fill="none" stroke="#1e1e1e" stroke-width="0.88" stroke-linecap="butt" stroke-linejoin="round">
<path transform="translate(0.00 0)" d="M0 -4.4 A1.1 1.15 0 0 1 2.2 -4.4 C2.2 -3 0 -1.8 0 0 H2.2"/>
<path transform="translate(2.95 0)" d="M0.4 -4.4 L1.5 -5.6 V0"/>
<path transform="translate(5.45 0)" d="M0.4 -4.4 L1.5 -5.6 V0"/>
</g>
<g transform="translate(352.00 549.00) scale(1.072 0.955)" fill="none" stroke="#1e1e1e" stroke-width="0.94" stroke-linecap="butt" stroke-linejoin="round">
<path transform="translate(0.00 0)" d="M2.2 -4.6 A1.1 1.1 0 0 0 0 -4.4 V-1.1 A1.1 1.1 0 0 0 2.2 -1.1 V-2.1 A1.1 1.1 0 0 0 0 -2.1"/>
<path transform="translate(2.95 0)" d="M0 -4.5 A1.1 1.1 0 0 1 2.2 -4.5 V-1.1 A1.1 1.1 0 0 1 0 -1.1 Z"/>
<path transform="translate(5.90 0)" d="M0.4 -4.4 L1.5 -5.6 V0"/>
</g>
<g transform="translate(352.00 558.00) scale(1.012 0.955)" fill="none" stroke="#1e1e1e" stroke-width="0.97" stroke-linecap="butt" stroke-linejoin="round">
<path transform="translate(0.00 0)" d="M2.2 -4.6 A1.1 1.1 0 0 0 0 -4.4 V-1.1 A1.1 1.1 0 0 0 2.2 -1.1 V-2.1 A1.1 1.1 0 0 0 0 -2.1"/>
<path transform="translate(2.95 0)" d="M0 -4.5 A1.1 1.1 0 0 1 2.2 -4.5 V-1.1 A1.1 1.1 0 0 1 0 -1.1 Z"/>
<path transform="translate(5.90 0)" d="M1.75 0 V-5.6 L0 -1.5 H2.4"/>
</g>
<g transform="translate(517.30 707.50) scale(1.191 1.143)" fill="none" stroke="#1e1e1e" stroke-width="0.94" stroke-linecap="butt" stroke-linejoin="round">
<path transform="translate(0.00 0)" d="M0 -5.6 H2.2 L0.8 0"/>
<path transform="translate(2.95 0)" d="M0.4 -4.4 L1.5 -5.6 V0"/>
</g>
<text x="238.00" y="509.70" font-size="6.40" font-weight="bold" text-anchor="start" fill="#222" textLength="74.70" lengthAdjust="spacingAndGlyphs">Линия присоединения кармана</text>
<text x="203.60" y="545.60" font-size="6.40" font-weight="bold" text-anchor="end" fill="#222" textLength="96.70" lengthAdjust="spacingAndGlyphs">Выполните длинные и короткие стежки</text>
<text x="203.60" y="553.80" font-size="6.40" font-weight="bold" text-anchor="end" fill="#222" textLength="130.70" lengthAdjust="spacingAndGlyphs">(нитями в 2 сложения) так, чтобы закрыть основание</text>
<text x="203.60" y="561.50" font-size="6.40" font-weight="bold" text-anchor="end" fill="#222" textLength="114.70" lengthAdjust="spacingAndGlyphs">лепестков, выполненных турецкими узелками,</text>
<text x="203.60" y="569.20" font-size="6.40" font-weight="bold" text-anchor="end" fill="#222" textLength="54.00" lengthAdjust="spacingAndGlyphs">нитями того же цвета.</text>
<text x="246.00" y="641.00" font-size="6.40" font-weight="bold" text-anchor="start" fill="#222" textLength="104.00" lengthAdjust="spacingAndGlyphs">Длинные и короткие стежки нитями № 501</text>
<text x="246.00" y="649.30" font-size="6.40" font-weight="bold" text-anchor="start" fill="#222" textLength="36.50" lengthAdjust="spacingAndGlyphs">(в 2 сложения)</text>
<text x="267.70" y="581.50" font-size="9.20" font-weight="normal" text-anchor="start" fill="#333" textLength="72.30" lengthAdjust="spacingAndGlyphs">Распределите цветы так,</text>
<text x="278.30" y="593.00" font-size="9.20" font-weight="normal" text-anchor="start" fill="#333" textLength="51.70" lengthAdjust="spacingAndGlyphs">как вам нравится.</text>
<path d="M161 176 C162 185 165 192 169 197.5" fill="none" stroke="#8a8a8a" stroke-width="0.55"/>
<path d="M161.5 176 C166 186 171 196 176 205" fill="none" stroke="#8a8a8a" stroke-width="0.55"/>
<path d="M138 239.5 C143 231 152 225 164 220.7 L170 218" fill="none" stroke="#8a8a8a" stroke-width="0.55"/>
<path d="M217 196.5 C216 204 217 214 221.5 222" fill="none" stroke="#8a8a8a" stroke-width="0.55"/>
<path d="M217 196.5 C218.5 199 220 201.5 221.6 203.5" fill="none" stroke="#8a8a8a" stroke-width="0.55"/>
<path d="M233.5 138.5 C233.5 143 234.5 147 236 151" fill="none" stroke="#8a8a8a" stroke-width="0.55"/>
<path d="M233.5 138.5 C237 145 242 151 247.5 155.5" fill="none" stroke="#8a8a8a" stroke-width="0.55"/>
<path d="M293.7 98 C294 107 299 115 308.7 121" fill="none" stroke="#8a8a8a" stroke-width="0.55"/>
<path d="M300 98 C303 102 306 105 310 108.7" fill="none" stroke="#8a8a8a" stroke-width="0.55"/>
<path d="M326.5 183.5 V189.5 M333.5 183.5 V207" fill="none" stroke="#8a8a8a" stroke-width="0.55"/>
<path d="M384 127.5 C379 128 375 130 373 134" fill="none" stroke="#8a8a8a" stroke-width="0.55"/>
<path d="M384.5 129.5 C379 133 374 139 371 145" fill="none" stroke="#8a8a8a" stroke-width="0.55"/>
<path d="M430 153.7 C423 156 417 160 412.5 163.7" fill="none" stroke="#8a8a8a" stroke-width="0.55"/>
<path d="M430 154.5 C424 158 420 162 416.5 166.5" fill="none" stroke="#8a8a8a" stroke-width="0.55"/>
<path d="M398.7 211.5 C394 207 390 204.5 386 203.5" fill="none" stroke="#8a8a8a" stroke-width="0.55"/>
<path d="M398.7 212.5 C393 213 388 215 384 218.5" fill="none" stroke="#8a8a8a" stroke-width="0.55"/>
<path d="M446.3 233.5 C445 228 444.2 223 444 219" fill="none" stroke="#8a8a8a" stroke-width="0.55"/>
<path d="M452.7 233.5 C454 228 454.3 223 454 219" fill="none" stroke="#8a8a8a" stroke-width="0.55"/>
<path d="M299 256.5 C295.5 250 292 243 288.5 237" fill="none" stroke="#8a8a8a" stroke-width="0.55"/>
<path d="M335 418 C335 423 333.5 428 331.2 431.3" fill="none" stroke="#8a8a8a" stroke-width="0.55"/>
<path d="M363.7 438.7 L353.7 441.3" fill="none" stroke="#8a8a8a" stroke-width="0.55"/>
<path d="M285 434 C285.5 428 288 422.5 291.3 418.7" fill="none" stroke="#8a8a8a" stroke-width="0.55"/>
<path d="M286 436 C290 430 295.5 424.5 301.3 420" fill="none" stroke="#8a8a8a" stroke-width="0.55"/>
<path d="M170 611.7 C175 616 180 620.5 185 625" fill="none" stroke="#8a8a8a" stroke-width="0.55"/>
<path d="M170 611.7 C175 619 181 627 188.3 635" fill="none" stroke="#8a8a8a" stroke-width="0.55"/>
<path d="M189.3 575 C188 592 190.5 608 196.5 621" fill="none" stroke="#8a8a8a" stroke-width="0.55"/>
<path d="M245 643.5 C233 641 221 636 211.7 628.3" fill="none" stroke="#8a8a8a" stroke-width="0.55"/>
<path d="M355.7 561.7 C356 564 356.8 566.5 357.7 568.3" fill="none" stroke="#8a8a8a" stroke-width="0.55"/>
<path d="M359 561.7 C360.5 563 361.5 564.5 362 566" fill="none" stroke="#8a8a8a" stroke-width="0.55"/>
<path d="M270 513 L260 534.7" fill="none" stroke="#8a8a8a" stroke-width="0.55"/>
</svg>
</body></html>
